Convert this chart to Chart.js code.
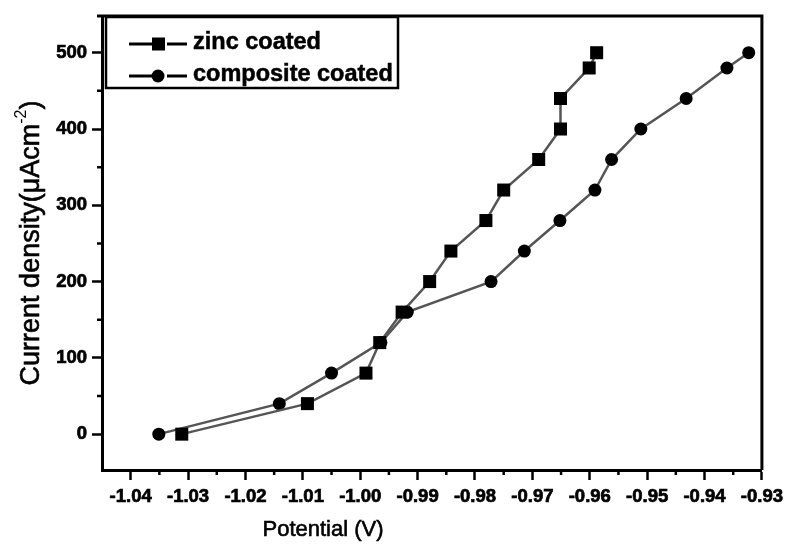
<!DOCTYPE html>
<html>
<head>
<meta charset="utf-8">
<script src="https://cdn.jsdelivr.net/npm/chart.js@4.4.1/dist/chart.umd.min.js"></script>
<style>
  html, body { margin: 0; padding: 0; background: #fff; }
  #wrap { width: 789px; height: 544px; }
</style>
</head>
<body>
<div id="wrap"><canvas id="chart"></canvas></div>
<script>
/* ================= DATA ================= */
const seriesNames = ["zinc coated", "composite coated"];

// zinc coated: potential (V) / current density (uA cm-2)
const zincV = [-1.0311, -1.0092, -0.9990, -0.9966, -0.9927, -0.9879, -0.9842,
               -0.9781, -0.9750, -0.9689, -0.9651, -0.9651, -0.9601, -0.9588];
const zincI = [0, 40, 80, 120, 160, 200, 240, 280, 320, 360, 400, 440, 480, 500];

// composite coated
const compV = [-1.0351, -1.0141, -1.0050, -0.9964, -0.9918, -0.9772, -0.9714,
               -0.9652, -0.9591, -0.9562, -0.9511, -0.9432, -0.9361, -0.9323];
const compI = [0, 40, 80, 120, 160, 200, 240, 280, 320, 360, 400, 440, 480, 500];

const xTicks = [-1.04, -1.03, -1.02, -1.01, -1.00, -0.99, -0.98, -0.97, -0.96, -0.95, -0.94, -0.93];
const xTickLabels = ["-1.04", "-1.03", "-1.02", "-1.01", "-1.00", "-0.99", "-0.98", "-0.97", "-0.96", "-0.95", "-0.94", "-0.93"];
const yTicks = [0, 100, 200, 300, 400, 500];
const yTickLabels = ["0", "100", "200", "300", "400", "500"];

const xTitle = "Potential (V)";
const yTitle = ["Current density(\u03bcAcm", "-2", ")"];

/* ================= STYLE ================= */
const FONT = "'Liberation Sans', Arial, sans-serif";
const LINE = "#555";

const pairs = (xs, ys) => xs.map((v, i) => ({ x: v, y: ys[i] }));
const mid = arr => arr.slice(1).map((v, i) => (v + arr[i]) / 2);

/* ================= PLUGIN ================= */
const framePlugin = {
  id: "frame",
  afterDraw(chart) {
    const { ctx, chartArea: a, scales: { x, y } } = chart;
    ctx.save();

    // top + right frame
    ctx.strokeStyle = "#000";
    ctx.lineWidth = 3;
    ctx.beginPath();
    ctx.moveTo(a.left - 5, a.top);
    ctx.lineTo(a.right, a.top);
    ctx.lineTo(a.right, a.bottom);
    ctx.stroke();

    // minor ticks
    ctx.lineWidth = 2.5;
    ctx.beginPath();
    mid(xTicks).forEach(v => {
      const px = x.getPixelForValue(v);
      ctx.moveTo(px, a.bottom);
      ctx.lineTo(px, a.bottom + 5);
    });
    mid(yTicks).forEach(v => {
      const py = y.getPixelForValue(v);
      ctx.moveTo(a.left, py);
      ctx.lineTo(a.left - 5, py);
    });
    ctx.stroke();

    // legend box
    const lx = 106, ly = 17, lw = 292, lh = 71;
    ctx.fillStyle = "#fff";
    ctx.fillRect(lx, ly, lw, lh);
    ctx.lineWidth = 2.5;
    ctx.strokeRect(lx, ly, lw, lh);

    const rows = [
      { y: 44, shape: "rect" },
      { y: 76, shape: "circle" }
    ];
    rows.forEach((r, i) => {
      ctx.strokeStyle = "#000";
      ctx.lineWidth = 3;
      ctx.beginPath();
      ctx.moveTo(129, r.y); ctx.lineTo(158, r.y);
      ctx.moveTo(167, r.y); ctx.lineTo(187, r.y);
      ctx.stroke();
      ctx.fillStyle = "#000";
      ctx.beginPath();
      if (r.shape === "rect") ctx.rect(152, r.y - 6.5, 13, 13);
      else ctx.arc(158, r.y, 6.5, 0, Math.PI * 2);
      ctx.fill();
      ctx.font = "bold 23.5px " + FONT;
      ctx.textBaseline = "middle";
      ctx.textAlign = "left";
      ctx.lineWidth = 0.5;
      ctx.fillText(seriesNames[i], 193, r.y - 1);
      ctx.strokeText(seriesNames[i], 193, r.y - 1);
    });

    // x title
    ctx.fillStyle = "#000";
    ctx.strokeStyle = "#000";
    ctx.lineWidth = 0.6;
    ctx.font = "22px " + FONT;
    ctx.textAlign = "center";
    ctx.textBaseline = "middle";
    ctx.fillText(xTitle, 323, 530);
    ctx.strokeText(xTitle, 323, 530);

    // y title with superscript
    ctx.translate(32, 243);
    ctx.rotate(-Math.PI / 2);
    ctx.textAlign = "left";
    ctx.textBaseline = "middle";
    const big = "27px " + FONT, small = "16px " + FONT;
    ctx.font = big;   const w0 = ctx.measureText(yTitle[0]).width;
    ctx.font = small; const w1 = ctx.measureText(yTitle[1]).width;
    ctx.font = big;   const w2 = ctx.measureText(yTitle[2]).width;
    let sx = -(w0 + w1 + w2) / 2;
    ctx.font = big;   ctx.fillText(yTitle[0], sx, 0); ctx.strokeText(yTitle[0], sx, 0); sx += w0;
    ctx.font = small; ctx.fillText(yTitle[1], sx, -10); sx += w1;
    ctx.font = big;   ctx.fillText(yTitle[2], sx, 0); ctx.strokeText(yTitle[2], sx, 0);

    ctx.restore();
  }
};

/* ================= CHART ================= */
const ctx = document.getElementById("chart").getContext("2d");

const tickFont = { family: FONT, size: 18.5, weight: "bold" };

new Chart(ctx, {
  type: "scatter",
  data: {
    datasets: [
      {
        label: seriesNames[0],
        data: pairs(zincV, zincI),
        showLine: true,
        borderColor: LINE,
        borderWidth: 2.5,
        backgroundColor: "#000",
        pointStyle: "rect",
        pointRadius: 9.2,
        pointBorderWidth: 0,
        tension: 0
      },
      {
        label: seriesNames[1],
        data: pairs(compV, compI),
        showLine: true,
        borderColor: LINE,
        borderWidth: 2.5,
        backgroundColor: "#000",
        pointStyle: "circle",
        pointRadius: 6.5,
        pointBorderWidth: 0,
        tension: 0
      }
    ]
  },
  options: {
    responsive: true,
    maintainAspectRatio: false,
    animation: false,
    layout: { padding: { top: 13, right: 25, left: 0, bottom: 0 } },
    plugins: {
      legend: { display: false },
      tooltip: { enabled: false }
    },
    scales: {
      x: {
        type: "linear",
        min: -1.045,
        max: -0.93,
        afterBuildTicks: s => { s.ticks = xTicks.map(v => ({ value: v })); },
        afterFit: s => { s.height = 74; },
        ticks: {
          callback: (v, i) => xTickLabels[i],
          color: "#000",
          font: tickFont,
          textStrokeColor: "#000",
          textStrokeWidth: 0.7,
          padding: 6,
          maxRotation: 0,
          autoSkip: false
        },
        grid: {
          drawOnChartArea: false,
          drawTicks: true,
          tickLength: 10,
          tickWidth: 2.5,
          tickColor: "#000"
        },
        border: { display: true, color: "#000", width: 3 }
      },
      y: {
        type: "linear",
        min: -47,
        max: 548,
        afterBuildTicks: s => { s.ticks = yTicks.map(v => ({ value: v })); },
        afterFit: s => { s.width = 102; },
        ticks: {
          callback: (v, i) => yTickLabels[i],
          color: "#000",
          font: tickFont,
          textStrokeColor: "#000",
          textStrokeWidth: 0.7,
          padding: 5
        },
        grid: {
          drawOnChartArea: false,
          drawTicks: true,
          tickLength: 10,
          tickWidth: 2.5,
          tickColor: "#000"
        },
        border: { display: true, color: "#000", width: 3 }
      }
    }
  },
  plugins: [framePlugin]
});
</script>
</body>
</html>
